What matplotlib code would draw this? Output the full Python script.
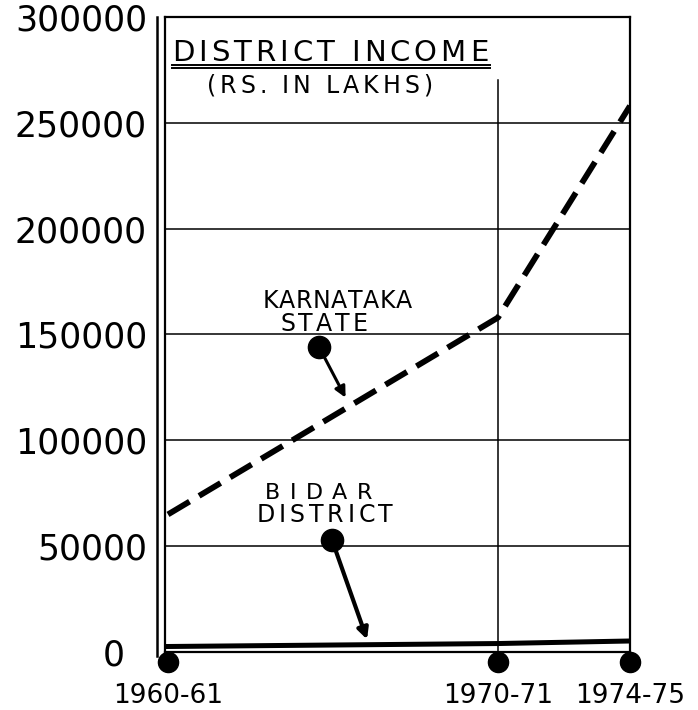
import matplotlib
matplotlib.use("Agg")
import matplotlib.pyplot as plt
from matplotlib.lines import Line2D
from matplotlib.font_manager import FontProperties
import matplotlib.transforms as mtransforms

# Data
years = [1960, 1970, 1974]
year_labels = ["1960-61", "1970-71", "1974-75"]
karnataka = [65000, 158000, 258000]
bidar = [2600, 4000, 5200]
yticks = [0, 50000, 100000, 150000, 200000, 250000, 300000]

plt.rcParams['font.family'] = ['DejaVu Sans']
W, H = 698, 710
fig = plt.figure(figsize=(W / 100, H / 100), dpi=100)
left, right, bottom, top = 165, 630, 652, 17
axw, axh = right - left, bottom - top
ax = fig.add_axes([left / W, 1 - bottom / H, axw / W, axh / H])
ax.set_xlim(1960 - 3 / 33.0, 1974)
ax.set_ylim(0, 300000)

for s in ax.spines.values():
    s.set_linewidth(1.6)
    s.set_color("black")

# horizontal grid lines
for v in yticks[1:-1]:
    ax.axhline(v, color="black", lw=1.1, zorder=1)
# vertical line at 1970-71 (below title)
ax.axvline(1970, ymin=0, ymax=(652 - 80) / axh, color="black", lw=1.1, zorder=1)

# outer left line (double border)
ax.add_line(Line2D([-8 / axw, -8 / axw], [-4 / axh, 1], transform=ax.transAxes,
                   color="black", lw=1.8, clip_on=False))

# series
ax.plot(years, karnataka, color="black", lw=4.2, dashes=(4.3, 1.9),
        solid_capstyle="butt", dash_capstyle="butt", zorder=3)
ax.plot(years, bidar, color="black", lw=3.6, zorder=3)

# bottom markers
ax.scatter(years, [-10 / axh] * 3, s=210, color="black",
           transform=ax.get_xaxis_transform(), clip_on=False, zorder=5)

ax.set_yticks(yticks)
ax.set_yticklabels([str(v) for v in yticks], fontsize=25)
ax.tick_params(axis="y", length=0, pad=13)
ax.set_xticks(years)
ax.set_xticklabels(year_labels, fontsize=19)
ax.tick_params(axis="x", length=0, pad=22)
# the "0" label sits further left in the original
zero_lab = ax.get_yticklabels()[0]
zero_lab.set_transform(zero_lab.get_transform() +
                       mtransforms.ScaledTranslation(-0.22, 0, fig.dpi_scale_trans))

renderer = fig.canvas.get_renderer()


def tracked(s, x0, x1, ybase, size):
    """Draw letter-spaced text spanning pixel x0..x1 with baseline at ybase (pixels from top)."""
    prop = FontProperties(family="DejaVu Sans", size=size)
    widths = []
    for ch in s:
        if ch == " ":
            widths.append(size * 100 / 72 * 0.32)
        else:
            w, h, d = renderer.get_text_width_height_descent(ch, prop, ismath=False)
            widths.append(w)
    extra = (x1 - x0 - sum(widths)) / max(len(s) - 1, 1)
    x = x0
    for ch, w in zip(s, widths):
        if ch != " ":
            fig.text(x / W, 1 - ybase / H, ch, fontproperties=prop,
                     ha="left", va="baseline")
        x += w + extra


# title
tracked("DISTRICT INCOME", 172, 488, 61, 21)
for yy in (64.5, 68):
    fig.add_artist(Line2D([172 / W, 490 / W], [1 - yy / H, 1 - yy / H],
                          color="black", lw=1.4))
tracked("(RS. IN LAKHS)", 207, 432, 93, 17)

# annotation labels
tracked("KARNATAKA", 263, 412, 308, 17)
tracked("STATE", 280, 368, 331, 17)
tracked("BIDAR", 265, 372, 499, 16)
tracked("DISTRICT", 257, 393, 522, 17)

# annotation arrows
ax.annotate("", xy=(1965.42, 119000), xytext=(1964.58, 144000),
            arrowprops=dict(arrowstyle="-|>", color="black", lw=2.2, mutation_scale=16))
ax.plot([1964.58], [144000], "o", color="black", ms=16, zorder=6)

ax.annotate("", xy=(1966.06, 4700), xytext=(1964.97, 52900),
            arrowprops=dict(arrowstyle="-|>", color="black", lw=3, mutation_scale=16))
ax.plot([1964.97], [52900], "o", color="black", ms=16, zorder=6)

fig.savefig("out.png", dpi=100)
